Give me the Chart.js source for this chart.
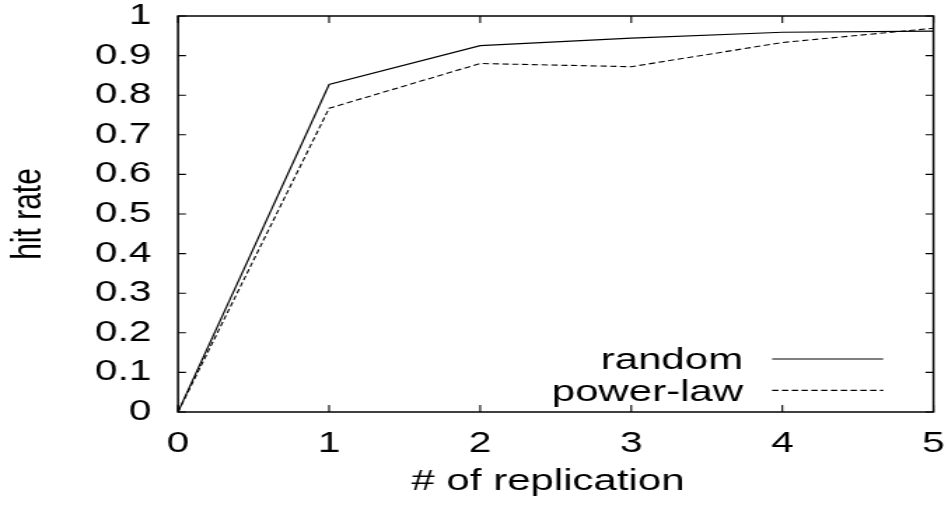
<!DOCTYPE html>
<html>
<head>
<meta charset="utf-8">
<script src="https://cdn.jsdelivr.net/npm/chart.js@4/dist/chart.umd.min.js"></script>
<style>
  html, body { margin: 0; padding: 0; background: #fff; overflow: hidden; }
  #wrap { position: absolute; left: 0; top: 0; width: 677px; height: 509px;
          transform: scaleX(1.40030); transform-origin: 0 0; }
</style>
</head>
<body>
<div id="wrap"><canvas id="c"></canvas></div>
<script>
// ---- data ----
const replications = [0, 1, 2, 3, 4, 5];
const randomHit   = [0, 0.827, 0.925, 0.944, 0.959, 0.962];
const powerLawHit = [0, 0.767, 0.880, 0.872, 0.933, 0.969];
const seriesNames = ['random', 'power-law'];
const xTickLabels = ['0', '1', '2', '3', '4', '5'];
const yTickLabels = ['0', '0.1', '0.2', '0.3', '0.4', '0.5', '0.6', '0.7', '0.8', '0.9', '1'];
const xTitle = '# of replication';
const yTitle = 'hit rate';

const FONT = '"Liberation Sans", Arial, Helvetica, sans-serif';

const toPts = (vals) => replications.map((x, i) => ({ x: x, y: vals[i] }));

const framePlugin = {
  id: 'frame',
  afterDatasetsDraw(chart) {
    const { ctx, chartArea: a, scales: { x, y } } = chart;
    ctx.save();
    ctx.strokeStyle = '#000';
    ctx.lineWidth = 1.5;
    ctx.strokeRect(a.left, a.top, a.right - a.left, a.bottom - a.top);
    ctx.lineWidth = 1.1;
    ctx.beginPath();
    x.ticks.forEach(t => {
      const px = x.getPixelForValue(t.value);
      ctx.moveTo(px, a.bottom); ctx.lineTo(px, a.bottom - 7);
      ctx.moveTo(px, a.top); ctx.lineTo(px, a.top + 7);
    });
    y.ticks.forEach(t => {
      const py = y.getPixelForValue(t.value);
      ctx.moveTo(a.left, py); ctx.lineTo(a.left + 5.7, py);
      ctx.moveTo(a.right, py); ctx.lineTo(a.right - 5.7, py);
    });
    ctx.stroke();

    // x axis title (gnuplot places it slightly left of the plot centre)
    ctx.font = '30px ' + FONT;
    ctx.fillStyle = '#000';
    ctx.textAlign = 'center';
    ctx.textBaseline = 'alphabetic';
    ctx.fillText(xTitle, (a.left + a.right) / 2 - 5.5, a.bottom + 78);

    // legend (gnuplot style: right-aligned text, sample line to its right)
    ctx.textAlign = 'right';
    chart.data.datasets.forEach((ds, i) => {
      const base = a.bottom - 42.7 + i * 31.4;
      ctx.fillText(ds.label, a.right - 135.9, base);
      const ly = base - 10.3;
      ctx.beginPath();
      ctx.setLineDash(ds.borderDash || []);
      ctx.lineWidth = ds.borderWidth;
      ctx.strokeStyle = ds.borderColor;
      ctx.moveTo(a.right - 115.2, ly);
      ctx.lineTo(a.right - 35.9, ly);
      ctx.stroke();
    });
    ctx.restore();
  }
};

new Chart(document.getElementById('c'), {
  type: 'line',
  data: {
    datasets: [
      { label: seriesNames[0], data: toPts(randomHit), borderColor: '#000',
        borderWidth: 1.2, pointRadius: 0, tension: 0, fill: false },
      { label: seriesNames[1], data: toPts(powerLawHit), borderColor: '#000',
        borderWidth: 1.1, borderDash: [4.5, 2.5], pointRadius: 0, tension: 0, fill: false }
    ]
  },
  options: {
    responsive: true,
    maintainAspectRatio: false,
    animation: false,
    devicePixelRatio: 1,
    layout: { padding: { left: 0, right: 10.4, top: 16, bottom: 0 } },
    plugins: { legend: { display: false }, tooltip: { enabled: false } },
    scales: {
      x: {
        type: 'linear', min: 0, max: 5,
        grid: { display: false, drawTicks: false },
        border: { display: false },
        ticks: {
          stepSize: 1, padding: 17, color: '#000', maxRotation: 0, autoSkip: false,
          font: { family: FONT, size: 29, lineHeight: 1 },
          callback: (v, i) => xTickLabels[i]
        },
        title: { display: false },
        afterFit: (s) => { s.height = 97; s.paddingLeft = 0; s.paddingRight = 0; }
      },
      y: {
        type: 'linear', min: 0, max: 1,
        grid: { display: false, drawTicks: false },
        border: { display: false },
        ticks: {
          stepSize: 0.1, padding: 19, color: '#000', autoSkip: false,
          font: { family: FONT, size: 29, lineHeight: 1 },
          callback: (v, i) => yTickLabels[i]
        },
        title: { display: true, text: yTitle, color: '#000',
                 font: { family: FONT, size: 30, lineHeight: 1.2 },
                 padding: { top: 2.4, bottom: 0 } },
        afterFit: (s) => { s.width = 127.1; s.paddingTop = 0; s.paddingBottom = 0; }
      }
    }
  },
  plugins: [framePlugin]
});
</script>
</body>
</html>
